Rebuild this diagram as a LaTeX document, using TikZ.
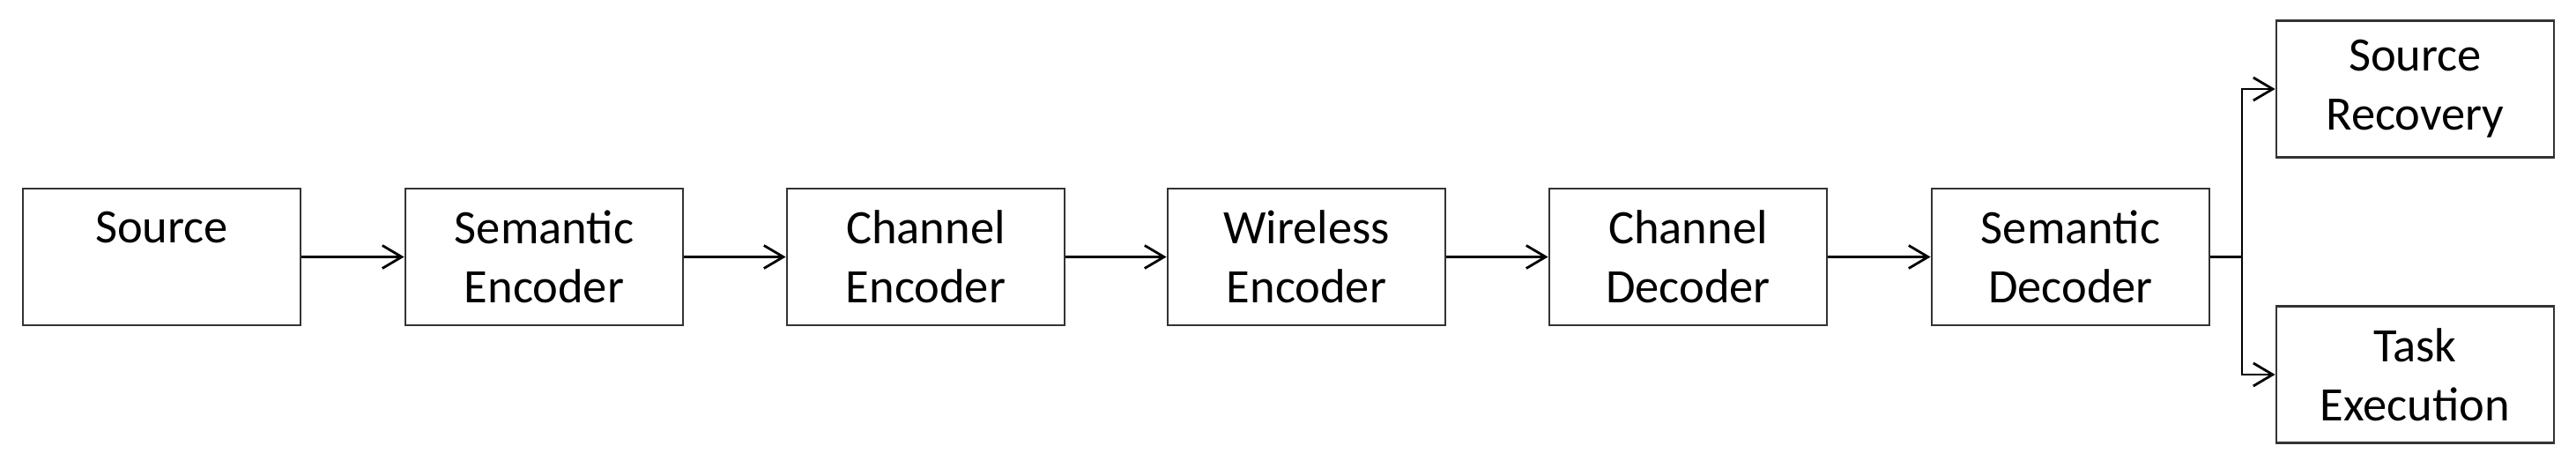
\documentclass[tikz,border=0pt]{standalone}
\usepackage{fontspec}
\setmainfont{Carlito}
\usetikzlibrary{arrows.meta}

\begin{document}
\begin{tikzpicture}[line width=0.8pt,
    box/.style={draw=black!80, minimum width=3.15cm, minimum height=1.55cm, inner sep=0pt, align=center, font=\fontsize{15.5}{19}\selectfont},
    >={Straight Barb[length=0.22cm,width=0.26cm]}]
            \useasboundingbox (0,0) rectangle (29.23,5.30);
            \node[box] (A) at (1.835,2.385) {Source\\\phantom{Source}};
            \node[box] (B) at (6.175,2.385) {Semantic\\Encoder};
            \node[box] (C) at (10.505,2.385) {Channel\\Encoder};
            \node[box] (D) at (14.825,2.385) {Wireless\\Encoder};
            \node[box] (E) at (19.155,2.385) {Channel\\Decoder};
            \node[box] (F) at (23.495,2.385) {Semantic\\Decoder};
            \node[box] (G) at (27.405,4.29) {Source\\Recovery};
            \node[box] (H) at (27.405,1.05) {Task\\Execution};
            \coordinate (J) at (25.44,2.385);

            \draw[->] (A) -- (B);
            \draw[->] (B) -- (C);
            \draw[->] (C) -- (D);
            \draw[->] (D) -- (E);
            \draw[->] (E) -- (F);
            \draw (F) -- (J);
            \draw[->] (J) |- (G);
            \draw[->] (J) |- (H);
        \end{tikzpicture}
\end{document}
